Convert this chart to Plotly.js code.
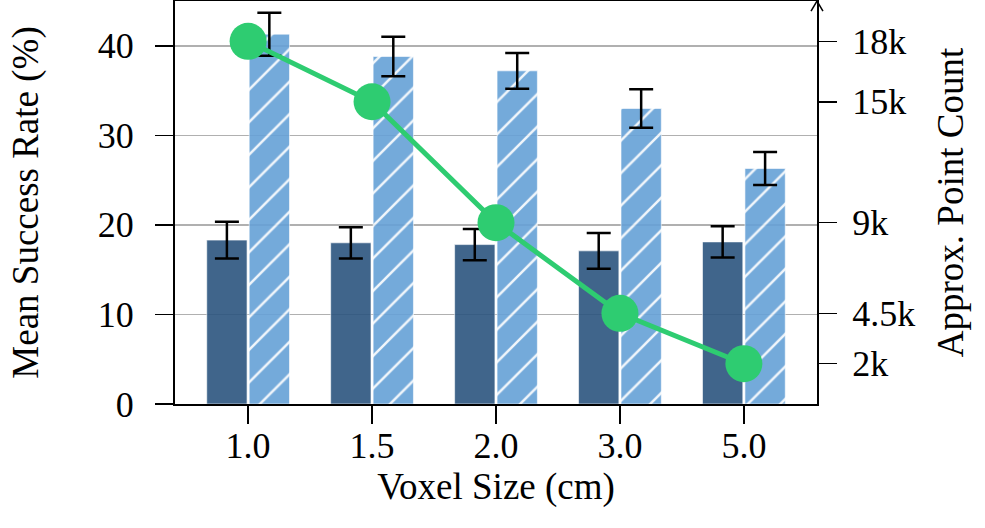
<!DOCTYPE html>
<html>
<head>
<meta charset="utf-8">
<script src="https://cdn.plot.ly/plotly-3.0.1.min.js"></script>
<style>html,body{margin:0;padding:0;background:#fff;}#chart{width:985px;height:528px;}</style>
</head>
<body>
<div id="chart"></div>
<script>
// ---- data ----
const voxelSizes = ['1.0', '1.5', '2.0', '3.0', '5.0'];
const darkMeans = [18.3, 18.0, 17.8, 17.1, 18.1];
const darkErr = [2.05, 1.75, 1.75, 2.0, 1.75];
const lightMeans = [41.3, 38.8, 37.2, 33.0, 26.3];
const lightErr = [2.4, 2.2, 2.0, 2.15, 1.85];
const pointCountK = [18, 15, 9, 4.5, 2];
const rightTickVals = [2, 4.5, 9, 15, 18];
const rightTickText = ['2k', '4.5k', '9k', '15k', '18k'];
const leftTickVals = [0, 10, 20, 30, 40];

const FONT = 'Liberation Serif, Times New Roman, serif';

const traces = [
  {
    type: 'bar', x: voxelSizes, y: darkMeans, name: 'A',
    marker: {color: '#2c557f', opacity: 0.9, line: {color: 'rgba(255,255,255,0.6)', width: 1}},
    error_y: {type: 'data', array: darkErr, visible: true, color: '#000', thickness: 2.5, width: 12}
  },
  {
    type: 'bar', x: voxelSizes, y: lightMeans, name: 'B',
    marker: {color: '#66a1d7', opacity: 0.9, line: {color: 'rgba(255,255,255,0.6)', width: 1},
             pattern: {shape: '/', bgcolor: '#66a1d7', fgcolor: '#ffffff', fgopacity: 0.9, size: 23, solidity: 0.11, fillmode: 'replace'}},
    error_y: {type: 'data', array: lightErr, visible: true, color: '#000', thickness: 2.5, width: 12}
  },
  {
    type: 'scatter', mode: 'lines+markers', x: voxelSizes, y: pointCountK, yaxis: 'y2', name: 'C',
    line: {color: '#2ecc71', width: 5},
    marker: {color: '#2ecc71', size: 37}
  }
];

const layout = {
  width: 985, height: 528,
  margin: {l: 175, r: 168, t: 1, b: 124},
  paper_bgcolor: '#fff', plot_bgcolor: '#fff',
  showlegend: false,
  barmode: 'group', bargap: 0.315, bargroupgap: 0.05,
  font: {family: FONT, size: 36, color: '#000'},
  xaxis: {
    type: 'category', range: [-0.59, 4.59],
    showline: true, linecolor: '#000', linewidth: 2, mirror: true,
    ticks: 'outside', ticklen: 18, tickwidth: 1.5, tickcolor: '#000',
    showgrid: false, zeroline: false,
    tickfont: {family: FONT, size: 36},
    ticklabelstandoff: -9,
    title: {text: 'Voxel Size (cm)', font: {family: FONT, size: 37}, standoff: 2}
  },
  yaxis: {
    range: [0, 45], tickvals: leftTickVals,
    showline: true, linecolor: '#000', linewidth: 2,
    ticks: 'outside', ticklen: 18, tickwidth: 1.5, tickcolor: '#000',
    showgrid: true, gridcolor: '#b0b0b0', gridwidth: 1.5, zeroline: false,
    tickfont: {family: FONT, size: 36},
    ticklabelstandoff: 14,
    title: {text: 'Mean Success Rate (%)', font: {family: FONT, size: 37}, standoff: 48}
  },
  yaxis2: {
    overlaying: 'y', side: 'right', range: [0, 20],
    tickvals: rightTickVals, ticktext: rightTickText,
    showline: true, linecolor: '#000', linewidth: 2,
    ticks: 'outside', ticklen: 18, tickwidth: 1.5, tickcolor: '#000',
    showgrid: false, zeroline: false,
    tickfont: {family: FONT, size: 36},
    ticklabelstandoff: 8,
    title: {text: 'Approx. Point Count', font: {family: FONT, size: 37}, standoff: 23}
  },
  shapes: [
    {type: 'path', xref: 'paper', yref: 'paper',
     path: 'M 0.9907,0.975 L 1,1.0 L 1.0093,0.975',
     line: {color: '#000', width: 1.5}}
  ]
};

Plotly.newPlot('chart', traces, layout, {displayModeBar: false, staticPlot: true});
</script>
</body>
</html>
